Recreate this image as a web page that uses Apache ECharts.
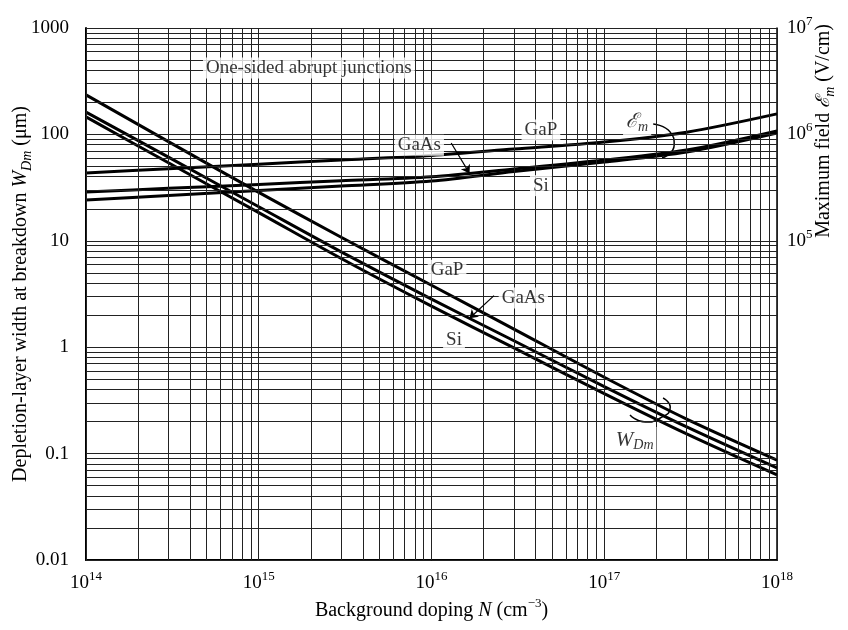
<!DOCTYPE html>
<html>
<head>
<meta charset="utf-8">
<script src="https://cdn.jsdelivr.net/npm/echarts@6/dist/echarts.min.js"></script>
<style>
html,body{margin:0;padding:0;background:#fff;}
#chart{width:848px;height:630px;}
</style>
</head>
<body>
<div id="chart"></div>
<script>
// background doping N (cm^-3)
var doping = [1e14, 3e14, 1e15, 3e15, 1e16, 3e16, 1e17, 3e17, 1e18];
// depletion-layer width at breakdown W_Dm (um), left axis
var wGaP  = [235, 85.5, 28.5, 10.8, 3.82, 1.48, 0.522, 0.211, 0.087];
var wGaAs = [162, 61.1, 20.9, 7.88, 2.83, 1.15, 0.426, 0.178, 0.0733];
var wSi   = [146, 54.1, 18.4, 6.82, 2.43, 0.985, 0.366, 0.153, 0.063];
// maximum field Em (V/cm), right axis
var emGaP  = [4.34e5, 4.75e5, 5.25e5, 5.74e5, 6.35e5, 7.29e5, 8.49e5, 1.05e6, 1.56e6];
var emGaAs = [2.88e5, 3.11e5, 3.39e5, 3.66e5, 4.0e5, 4.73e5, 5.74e5, 7.13e5, 1.08e6];
var emSi   = [2.42e5, 2.67e5, 2.97e5, 3.27e5, 3.65e5, 4.48e5, 5.5e5, 6.83e5, 1.03e6];

// tick labels
var xTickExp = [14, 15, 16, 17, 18];
var leftTickLabels = ['0.01', '0.1', '1', '10', '100', '1000'];   // 10^-2 .. 10^3
var rightTickExp = [5, 6, 7];

// curly brackets that tie each group of curves to its symbol
var braceW  = [[1.41e17, 0.231], [1.73e17, 0.198], [2.11e17, 0.216], [2.41e17, 0.274], [2.19e17, 0.333]];
var braceEm = [[1.92e17, 1.25e6], [2.41e17, 1.05e6], [2.54e17, 7.94e5], [2.16e17, 6.0e5]];

var FONT = 'Liberation Serif, DejaVu Serif, serif';
var FS = 19;

function pairs(ys) {
    return doping.map(function (x, i) { return [x, ys[i]]; });
}
function expOf(v) {
    return Math.round(Math.log(v) / Math.LN10);
}

// log graph paper lines (1..9 per decade)
var vLines = [], hLines = [];
for (var d = 14; d < 18; d++) {
    for (var k = 1; k < 10; k++) vLines.push({xAxis: k * Math.pow(10, d)});
}
vLines.push({xAxis: 1e18});
for (var d2 = -2; d2 < 3; d2++) {
    for (var k2 = 1; k2 < 10; k2++) hLines.push({yAxis: +(k2 * Math.pow(10, d2)).toPrecision(3)});
}
hLines.push({yAxis: 1000});

var supRich = {
    b: {fontFamily: FONT, fontSize: FS, color: '#000', lineHeight: 26},
    s: {fontFamily: FONT, fontSize: 13, color: '#000', verticalAlign: 'top', lineHeight: 15}
};
var titleRich = {
    a: {fontFamily: FONT, fontSize: 20, color: '#000', fill: '#000', lineHeight: 26},
    i: {fontFamily: FONT, fontSize: 20, fontStyle: 'italic', color: '#000', fill: '#000', lineHeight: 26},
    e: {fontFamily: 'DejaVu Serif, serif', fontSize: 19, fontStyle: 'italic', color: '#000', fill: '#000'},
    s: {fontFamily: FONT, fontSize: 13, color: '#000', fill: '#000', verticalAlign: 'top', lineHeight: 15},
    sub: {fontFamily: FONT, fontSize: 14, fontStyle: 'italic', color: '#000', fill: '#000', verticalAlign: 'bottom', padding: [9, 0, 0, 0]}
};

function curve(name, ys, yIndex) {
    return {
        name: name, type: 'line', yAxisIndex: yIndex, z: 3, silent: true,
        smooth: 0.3, showSymbol: false, data: pairs(ys),
        lineStyle: {color: '#000', width: 3}
    };
}
function brace(pts, yIndex) {
    return {
        type: 'line', yAxisIndex: yIndex, z: 4, silent: true,
        smooth: 0.6, showSymbol: false, data: pts,
        lineStyle: {color: '#000', width: 1.5}
    };
}

var labelBase = {
    show: true, position: 'inside', color: '#000', fontFamily: FONT, fontSize: FS,
    backgroundColor: '#fff', padding: [1, 3],
    rich: {
        a: {fontFamily: FONT, fontSize: FS, color: '#000'},
        i: {fontFamily: FONT, fontSize: 21, fontStyle: 'italic', color: '#000'},
        e: {fontFamily: 'DejaVu Serif, serif', fontSize: 20, fontStyle: 'italic', color: '#000'},
        sub: {fontFamily: FONT, fontSize: 14, fontStyle: 'italic', color: '#000', verticalAlign: 'bottom', padding: [10, 0, 0, 0]}
    }
};

// annotations: [N, value, text]
var notesLeft = [
    [1.95e15, 420, 'One-sided abrupt junctions'],
    [1.23e16, 5.3, 'GaP'],
    [3.4e16, 2.9, 'GaAs'],
    [1.35e16, 1.17, 'Si'],
    [1.5e17, 0.134, '{i|W}{sub|Dm}']
];
var notesRight = [
    [8.5e15, 7.9e5, 'GaAs'],
    [4.3e16, 1.1e6, 'GaP'],
    [4.3e16, 3.3e5, 'Si'],
    [1.55e17, 1.3e6, '{e|ℰ}{sub|m}']
];

function noteSeries(list, yIndex, arrow) {
    return {
        type: 'scatter', yAxisIndex: yIndex, z: 5, silent: true, symbolSize: 0,
        data: list.map(function (n) {
            return {value: [n[0], n[1]], label: {formatter: n[2]}};
        }),
        label: labelBase,
        markLine: {
            silent: true, animation: false, symbol: ['none', 'arrow'], symbolSize: 8,
            label: {show: false},
            lineStyle: {color: '#000', width: 1.2, type: 'solid'},
            data: [[{coord: arrow[0]}, {coord: arrow[1]}]]
        }
    };
}

var option = {
    animation: false,
    backgroundColor: '#fff',
    grid: {left: 86, right: 71, top: 28, bottom: 70, outerBoundsMode: 'none'},
    xAxis: {
        type: 'log', logBase: 10, min: 1e14, max: 1e18,
        axisLine: {show: true, onZero: false, lineStyle: {color: '#000', width: 2}},
        axisTick: {show: false},
        splitLine: {show: false},
        axisLabel: {
            margin: 10,
            formatter: function (v) {
                var e = expOf(v);
                return xTickExp.indexOf(e) >= 0 ? '{b|10}{s|' + e + '}' : '';
            },
            rich: supRich
        },
        name: '{a|Background doping }{i|N}{a| (cm}{s|−3}{a|)}',
        nameLocation: 'middle', nameGap: 36,
        nameTextStyle: {rich: titleRich}
    },
    yAxis: [{
        type: 'log', logBase: 10, min: 0.01, max: 1000,
        axisLine: {show: true, onZero: false, lineStyle: {color: '#000', width: 2}},
        axisTick: {show: false},
        splitLine: {show: false},
        axisLabel: {
            margin: 17, color: '#000', fontFamily: FONT, fontSize: FS,
            formatter: function (v) { return leftTickLabels[expOf(v) + 2] || ''; }
        },
        name: '{a|Depletion-layer width at breakdown }{i|W}{sub|Dm}{a| (μm)}',
        nameLocation: 'middle', nameGap: 52, nameMoveOverlap: false,
        nameTextStyle: {rich: titleRich}
    }, {
        type: 'log', logBase: 10, min: 100, max: 1e7, position: 'right',
        axisLine: {show: true, onZero: false, lineStyle: {color: '#000', width: 1.5}},
        axisTick: {show: false},
        splitLine: {show: false},
        axisLabel: {
            margin: 10,
            formatter: function (v) {
                var e = expOf(v);
                return rightTickExp.indexOf(e) >= 0 ? '{b|10}{s|' + e + '}' : '';
            },
            rich: supRich
        }
    }],
    graphic: [{
        type: 'text', left: 814, top: 24, rotation: Math.PI / 2,
        style: {
            text: '{a|Maximum field }{e|ℰ}{sub|m}{a| (V/cm)}',
            rich: titleRich
        }
    }],
    series: [
        {
            // graph paper
            type: 'line', z: 1, silent: true, showSymbol: false, data: [[1e14, 0.01]],
            markLine: {
                silent: true, animation: false, symbol: ['none', 'none'],
                label: {show: false},
                lineStyle: {color: '#222', width: 1, type: 'solid'},
                data: vLines.concat(hLines)
            }
        },
        curve('GaP', wGaP, 0),
        curve('GaAs', wGaAs, 0),
        curve('Si', wSi, 0),
        curve('GaP', emGaP, 1),
        curve('GaAs', emGaAs, 1),
        curve('Si', emSi, 1),
        brace(braceW, 0),
        brace(braceEm, 1),
        noteSeries(notesLeft, 0, [[2.3e16, 3.05], [1.66e16, 1.87]]),
        noteSeries(notesRight, 1, [[1.3e16, 8.3e5], [1.66e16, 4.3e5]])
    ]
};

var chart = echarts.init(document.getElementById('chart'), null, {renderer: 'canvas'});
chart.setOption(option);
</script>
</body>
</html>
